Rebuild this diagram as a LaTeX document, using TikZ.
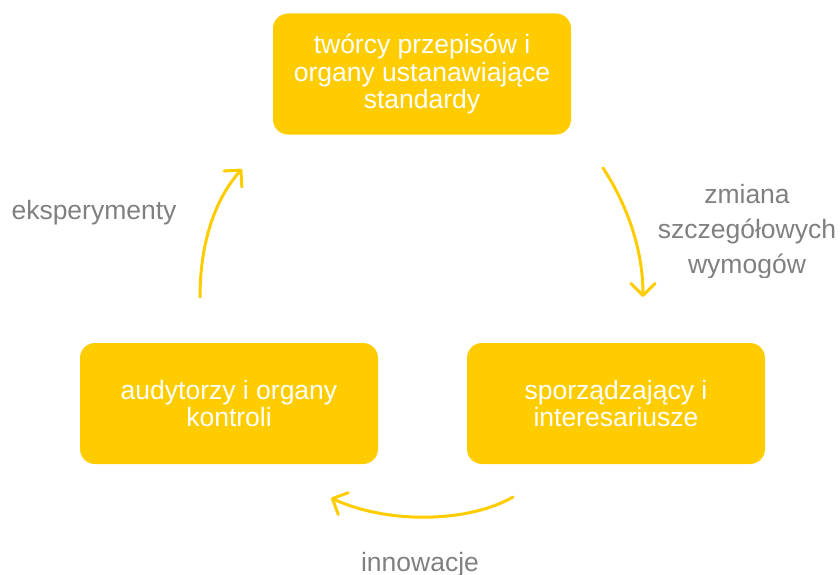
\documentclass[tikz,border=0pt]{standalone}
\usepackage{fontspec}
\setmainfont{Liberation Sans}
\usetikzlibrary{arrows.meta}
\definecolor{gold}{HTML}{FFCC00}
\definecolor{lbl}{HTML}{808080}
\begin{document}
\begin{tikzpicture}[x=1pt,y=-1pt,
  box/.style={draw=none,fill=gold,rounded corners=15pt,minimum width=298pt,minimum height=121pt,
    text=white,align=center,font=\fontsize{26.5}{27.5}\selectfont,inner sep=0pt},
  lab/.style={text=lbl,align=center,font=\fontsize{26.5}{35}\selectfont,inner sep=0pt},
  cyc/.style={draw=gold,line width=3pt,line cap=round,-{Straight Barb[length=12pt,width=24pt,line width=3pt,round]}}]
\useasboundingbox (0,0) rectangle (840,575);
\node[box] (top) at (422,74) {twórcy przepisów i\\organy ustanawiające\\standardy};
\node[box] (left) at (229,403.5) {audytorzy i organy\\kontroli};
\node[box] (right) at (616,403.5) {sporządzający i\\interesariusze};
\node[lab] (eks) at (94,213) {eksperymenty};
\begin{scope}
\clip (600,170) rectangle (840,277);
\node[lab] (zm) at (747,232) {zmiana\\szczegółowych\\wymogów};
\end{scope}
\node[lab,anchor=base] (inn) at (420,571) {innowacje};
\coordinate (a1) at (200,297);
\coordinate (a2) at (242,169);
\coordinate (b1) at (603,168);
\coordinate (b2) at (643,297);
\coordinate (c1) at (513,497);
\coordinate (c2) at (331,498);
\draw[cyc] (a1) .. controls (200,245) and (214,200) .. (a2);
\draw[cyc] (b1) .. controls (624,200) and (643,245) .. (b2);
\draw[cyc] (c1) .. controls (470,522) and (390,525) .. (c2);
\end{tikzpicture}
\end{document}
